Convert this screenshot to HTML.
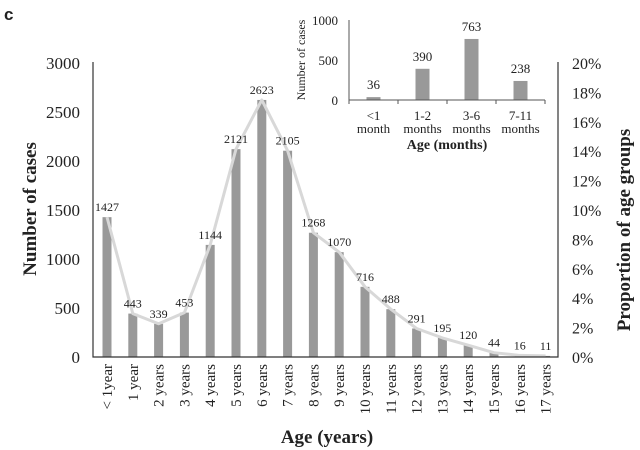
<!DOCTYPE html><html><head><style>body{margin:0;background:#fff}svg{display:block}text{font-family:"Liberation Serif",serif;fill:#222}</style></head><body>
<svg width="640" height="450" viewBox="0 0 640 450" xmlns="http://www.w3.org/2000/svg">
<text x="4" y="20" font-weight="bold" font-size="17" style="font-family:'Liberation Sans',sans-serif">c</text>
<script>
var s=document.querySelector('svg'),ns='http://www.w3.org/2000/svg';
function el(t,a,txt){var e=document.createElementNS(ns,t);for(var k in a)e.setAttribute(k,a[k]);if(txt!=null)e.textContent=txt;s.appendChild(e);return e;}
var d=[1427,443,339,453,1144,2121,2623,2105,1268,1070,716,488,291,195,120,44,16,11];
var lab=['< 1year','1 year','2 years','3 years','4 years','5 years','6 years','7 years','8 years','9 years','10 years','11 years','12 years','13 years','14 years','15 years','16 years','17 years'];
var y0=357,k=294/3000;
for(var i=0;i<=6;i++){var y=y0-i*49;el('text',{x:80,y:y+6,'text-anchor':'end','font-size':17},String(i*500));}
for(var i=0;i<=10;i++){var y=y0-i*29.4;el('text',{x:572,y:y+6,'font-size':16},(i*2)+'%');}
var pts=[];
d.forEach(function(v,i){var cx=107+25.8*i,h=v*k;el('rect',{x:cx-4.5,y:y0-h,width:9,height:h,fill:'#999'});pts.push(cx+','+(y0-h));});
el('polyline',{points:pts.join(' '),fill:'none',stroke:'#d8d8d8','stroke-width':3,'stroke-linejoin':'round'});
d.forEach(function(v,i){var cx=107+25.8*i,h=v*k;
el('text',{x:cx,y:y0-h-6,'text-anchor':'middle','font-size':12},v);
el('text',{transform:'translate('+(cx+5)+',364) rotate(-90)','text-anchor':'end','font-size':15},lab[i]);});
el('path',{d:'M93,62V'+y0+'H558V62',fill:'none',stroke:'#333','stroke-width':1.2});
el('text',{x:327,y:443,'text-anchor':'middle','font-size':19,'font-weight':'bold'},'Age (years)');
el('text',{transform:'translate(36,209) rotate(-90)','text-anchor':'middle','font-size':19,'font-weight':'bold'},'Number of cases');
el('text',{transform:'translate(630,230) rotate(-90)','text-anchor':'middle','font-size':19,'font-weight':'bold'},'Proportion of age groups');
var id=[36,390,763,238],il=[['<1','month'],['1-2','months'],['3-6','months'],['7-11','months']];
[0,500,1000].forEach(function(v){var y=100-v*0.08;el('text',{x:338,y:y+5,'text-anchor':'end','font-size':13},v);});
id.forEach(function(v,i){var cx=373.5+49*i,h=v*0.08;el('rect',{x:cx-7,y:100-h,width:14,height:h,fill:'#999'});
el('text',{x:cx,y:100-h-8,'text-anchor':'middle','font-size':13},v);
el('text',{x:cx,y:120,'text-anchor':'middle','font-size':13},il[i][0]);el('text',{x:cx,y:133,'text-anchor':'middle','font-size':13},il[i][1]);
el('line',{x1:349+49*i,y1:100,x2:349+49*i,y2:104,stroke:'#555'});});
el('line',{x1:545,y1:100,x2:545,y2:104,stroke:'#555'});
el('path',{d:'M349,20V100H545',fill:'none',stroke:'#555','stroke-width':1});
el('text',{x:447,y:149,'text-anchor':'middle','font-size':14,'font-weight':'bold'},'Age (months)');
el('text',{transform:'translate(305,60) rotate(-90)','text-anchor':'middle','font-size':12},'Number of cases');
</script>
</svg>
</body></html>
